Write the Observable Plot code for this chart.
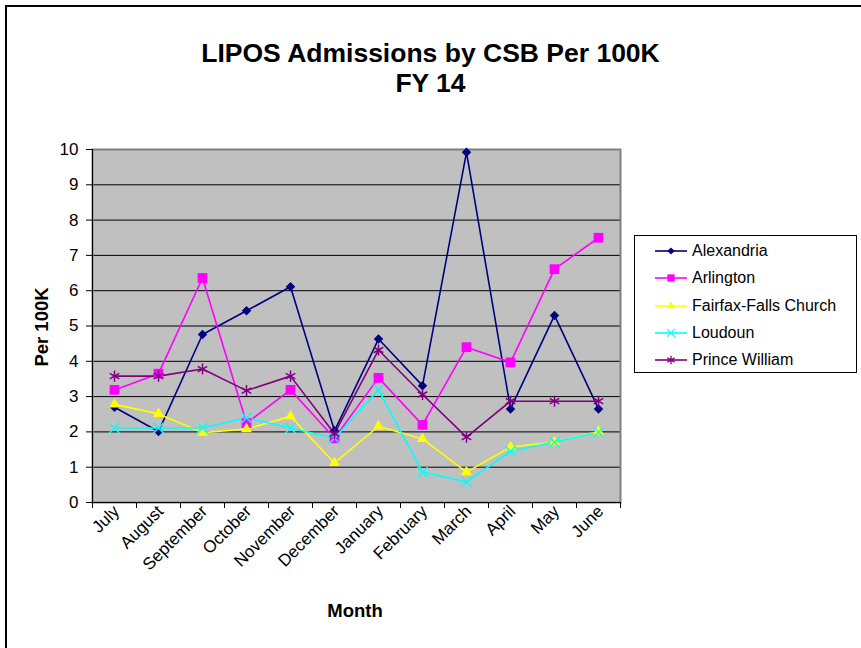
<!DOCTYPE html>
<html>
<head>
<meta charset="utf-8">
<script src="https://cdn.jsdelivr.net/npm/d3@7"></script>
<script src="https://cdn.jsdelivr.net/npm/@observablehq/plot@0.6"></script>
<style>
  html, body { margin: 0; padding: 0; background: #fff; }
  #wrap { position: relative; width: 861px; height: 648px; overflow: hidden; font-family: "Liberation Sans", Arial, sans-serif; }
  #border { position: absolute; left: 5px; top: 5px; width: 900px; height: 700px; border-left: 2px solid #000; border-top: 2px solid #000; box-sizing: border-box; }
  #title { position: absolute; left: 0; width: 861px; top: 38px; text-align: center; font-weight: bold; font-size: 26.5px; line-height: 30px; }
  #ylabel { position: absolute; left: 42px; top: 327px; transform: translate(-50%, -50%) rotate(-90deg); font-weight: bold; font-size: 18.5px; white-space: nowrap; }
  #xlabel { position: absolute; left: 355px; top: 611px; transform: translate(-50%, -50%); font-weight: bold; font-size: 18.5px; white-space: nowrap; }
  #legend { position: absolute; left: 634px; top: 235px; width: 223px; height: 138px; border: 1px solid #000; box-sizing: border-box; background: #fff; }
  .entry { position: absolute; left: 19px; height: 20px; display: flex; align-items: center; font-size: 16px; white-space: nowrap; }
  .entry svg { margin-right: 4px; }
  #chart { position: absolute; left: 0; top: 0; }
</style>
</head>
<body>
<div id="wrap">
  <div id="border"></div>
  <div id="chart"></div>
  <div id="title">LIPOS Admissions by CSB Per 100K<br>FY 14</div>
  <div id="ylabel">Per 100K</div>
  <div id="xlabel">Month</div>
  <div id="legend"></div>
</div>
<script>
const months = ["July", "August", "September", "October", "November", "December", "January", "February", "March", "April", "May", "June"];
const seriesNames = ["Alexandria", "Arlington", "Fairfax-Falls Church", "Loudoun", "Prince William"];
const alexandria    = [2.70, 2.01, 4.76, 5.43, 6.11, 2.03, 4.63, 3.31, 9.92, 2.65, 5.30, 2.65];
const arlington     = [3.19, 3.65, 6.36, 2.25, 3.19, 1.82, 3.53, 2.20, 4.40, 3.97, 6.61, 7.50];
const fairfax       = [2.78, 2.51, 1.98, 2.08, 2.44, 1.12, 2.16, 1.80, 0.86, 1.57, 1.71, 2.01];
const loudoun       = [2.11, 2.11, 2.11, 2.40, 2.11, 1.82, 3.19, 0.86, 0.58, 1.45, 1.71, 1.99];
const princeWilliam = [3.58, 3.58, 3.78, 3.17, 3.58, 1.95, 4.32, 3.06, 1.85, 2.87, 2.87, 2.87];
const yTicks = [0, 1, 2, 3, 4, 5, 6, 7, 8, 9, 10];

const seriesValues = [alexandria, arlington, fairfax, loudoun, princeWilliam];
const colors  = ["#000080", "#FF00FF", "#FFFF00", "#00FFFF", "#800080"];
const symbols = ["diamond2", "square2", "triangle2", "times", "asterisk"];
const d3symbols = [d3.symbolDiamond2, d3.symbolSquare2, d3.symbolTriangle2, d3.symbolTimes, d3.symbolAsterisk];
const filled  = [true, true, true, false, false];
const radii   = [4.3, 6.2, 5.2, 4.8, 5.2];

const series = seriesNames.map((name, k) =>
  seriesValues[k].map((v, i) => ({ series: name, i, month: months[i], value: v }))
);

const marks = [
  Plot.frame({ fill: "#C0C0C0", stroke: null }),
  Plot.gridY(yTicks.filter(t => t > 0 && t < 10), { stroke: "#000", strokeOpacity: 1, strokeWidth: 1 }),
  Plot.frame({ stroke: "#808080", strokeWidth: 2 }),
  Plot.ruleX([-0.5], { stroke: "#000", strokeWidth: 1 }),
  Plot.ruleY([0], { stroke: "#000", strokeWidth: 1 }),
  Plot.axisY(yTicks, { tickSize: 6, tickPadding: 8, label: null, fontSize: 17, tickFormat: d => String(d) }),
  Plot.axisX(d3.range(13).map(k => k - 0.5), { tickSize: 6, tickFormat: () => "", label: null }),
  Plot.axisX(d3.range(12), { tickSize: 0, tickPadding: 6, dx: 2, tickRotate: -45, fontSize: 17, tickFormat: i => months[i], label: null })
];

series.forEach((data, k) => {
  marks.push(Plot.line(data, { x: "i", y: "value", stroke: colors[k], strokeWidth: 1.6 }));
});
series.forEach((data, k) => {
  if (filled[k]) {
    marks.push(Plot.dot(data, { x: "i", y: "value", symbol: () => symbols[k], fill: colors[k], stroke: null, r: radii[k] }));
  } else {
    marks.push(Plot.dot(data, { x: "i", y: "value", symbol: () => symbols[k], stroke: colors[k], strokeWidth: 1.5, r: radii[k] }));
  }
});

const chart = Plot.plot({
  width: 861,
  height: 648,
  marginLeft: 92,
  marginRight: 241,
  marginTop: 149,
  marginBottom: 146,
  x: { type: "linear", domain: [-0.5, 11.5] },
  y: { domain: [0, 10] },
  symbol: { type: "identity" },
  style: { fontFamily: "'Liberation Sans', Arial, sans-serif", fontSize: "17px", color: "#000", background: "transparent", overflow: "visible" },
  marks
});
document.getElementById("chart").appendChild(chart);

// legend
const legend = document.getElementById("legend");
seriesNames.forEach((name, k) => {
  const div = document.createElement("div");
  div.className = "entry";
  div.style.top = (5 + k * 27.3) + "px";
  const svg = d3.create("svg").attr("width", 34).attr("height", 14);
  svg.append("line").attr("x1", 1).attr("x2", 33).attr("y1", 7).attr("y2", 7).attr("stroke", colors[k]).attr("stroke-width", 1.6);
  const size = Math.PI * (radii[k] * 0.75) ** 2;
  svg.append("path")
    .attr("transform", "translate(17,7)")
    .attr("d", d3.symbol(d3symbols[k], size)())
    .attr("fill", filled[k] ? colors[k] : "none")
    .attr("stroke", filled[k] ? "none" : colors[k])
    .attr("stroke-width", 1.3);
  div.appendChild(svg.node());
  const span = document.createElement("span");
  span.textContent = name;
  div.appendChild(span);
  legend.appendChild(div);
});
</script>
</body>
</html>
